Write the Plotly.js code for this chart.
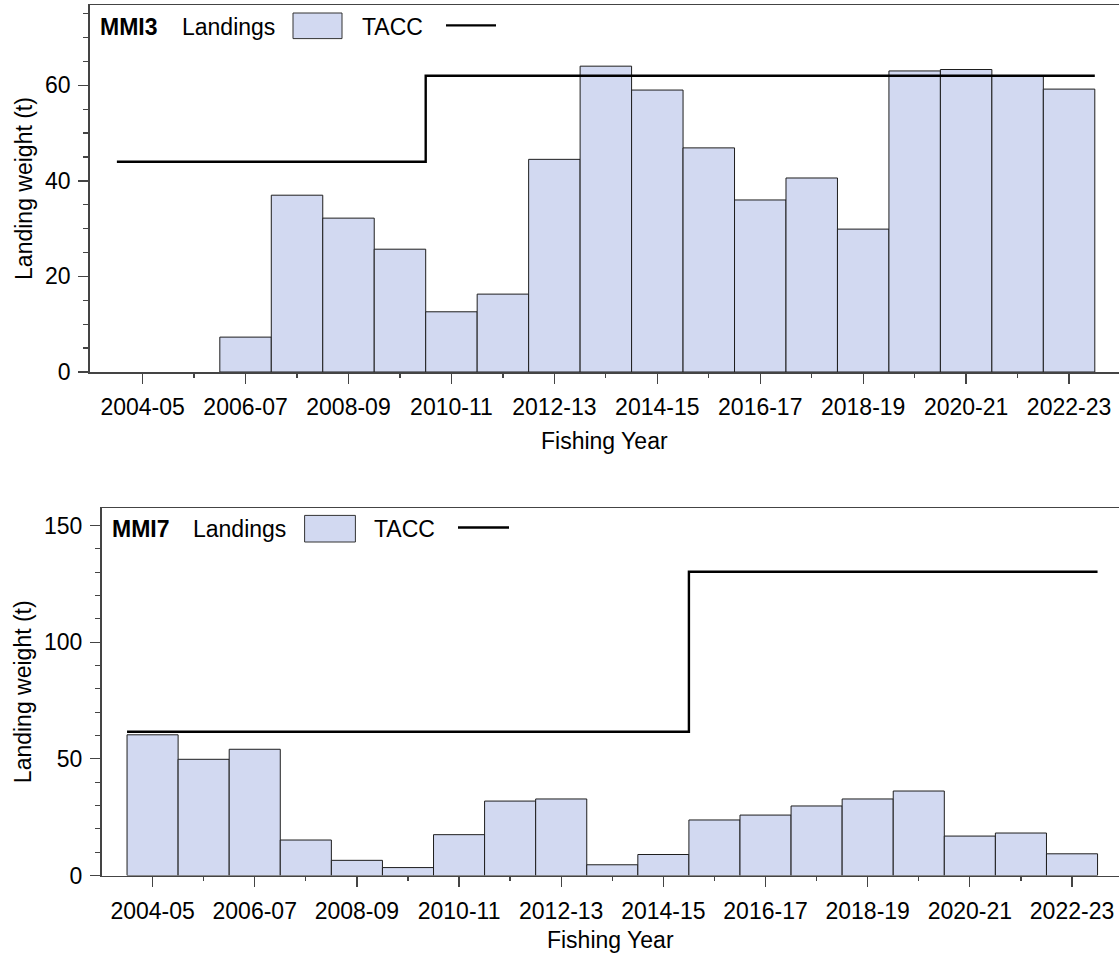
<!DOCTYPE html>
<html>
<head>
<meta charset="utf-8">
<script src="https://cdn.plot.ly/plotly-3.0.1.min.js"></script>
<style>html,body{margin:0;padding:0;background:#fff;}#chart{width:1119px;height:953px;}</style>
</head>
<body>
<div id="chart"></div>
<script>
// ---- data ----
const years = ["2004-05","2005-06","2006-07","2007-08","2008-09","2009-10","2010-11","2011-12","2012-13","2013-14","2014-15","2015-16","2016-17","2017-18","2018-19","2019-20","2020-21","2021-22","2022-23"];
const mmi3Landings = [0, 0, 7.3, 37.0, 32.2, 25.7, 12.6, 16.3, 44.5, 64.0, 59.0, 46.9, 36.0, 40.6, 29.9, 63.0, 63.3, 62.0, 59.2];
const mmi3TACC = [44, 44, 44, 44, 44, 44, 62, 62, 62, 62, 62, 62, 62, 62, 62, 62, 62, 62, 62];
const mmi7Landings = [60.3, 49.8, 54.1, 15.2, 6.5, 3.4, 17.5, 31.9, 32.8, 4.6, 9.0, 23.8, 25.9, 29.8, 32.8, 36.2, 16.9, 18.2, 9.3];
const mmi7TACC = [61.6, 61.6, 61.6, 61.6, 61.6, 61.6, 61.6, 61.6, 61.6, 61.6, 61.6, 130.2, 130.2, 130.2, 130.2, 130.2, 130.2, 130.2, 130.2];
const stockNames = ["MMI3", "MMI7"];

// ---- helpers ----
const W = 1119, H = 953;
const px = v => v / W;
const py = v => 1 - v / H;
const idx = years.map((_, i) => i);
const majorVals = idx.filter(i => i % 2 === 0);
const majorText = majorVals.map(i => years[i]);
const minorVals = idx.filter(i => i % 2 === 1);

function stepX() { const xs = idx.map(i => i - 0.5); xs.push(years.length - 0.5); return xs; }
function stepY(arr) { const ys = arr.slice(); ys.push(arr[arr.length - 1]); return ys; }
function outlineWidths(arr) { return arr.map(v => (v > 0 ? 1 : 0)); }

const FONT = "Liberation Sans, Arial, sans-serif";
const AX = "#444";
const BAR_FILL = "#d2d9f1";
const BAR_LINE = "#1e1e1e";

const traces = [
  { type: "bar", x: idx, y: mmi3Landings, width: 1, xaxis: "x", yaxis: "y",
    marker: { color: BAR_FILL, line: { color: BAR_LINE, width: outlineWidths(mmi3Landings) } }, showlegend: false, hoverinfo: "skip" },
  { type: "scatter", mode: "lines", x: stepX(), y: stepY(mmi3TACC), xaxis: "x", yaxis: "y",
    line: { color: "#000", width: 2.4, shape: "hv" }, showlegend: false, hoverinfo: "skip" },
  { type: "bar", x: idx, y: mmi7Landings, width: 1, xaxis: "x2", yaxis: "y2",
    marker: { color: BAR_FILL, line: { color: BAR_LINE, width: outlineWidths(mmi7Landings) } }, showlegend: false, hoverinfo: "skip" },
  { type: "scatter", mode: "lines", x: stepX(), y: stepY(mmi7TACC), xaxis: "x2", yaxis: "y2",
    line: { color: "#000", width: 2.4, shape: "hv" }, showlegend: false, hoverinfo: "skip" }
];

function xAxis(domainLeft, range, anchor) {
  return {
    domain: [px(domainLeft), 1], range: range, anchor: anchor,
    tickmode: "array", tickvals: majorVals, ticktext: majorText,
    ticks: "outside", ticklen: 10, tickwidth: 1.3, tickcolor: AX,
    ticklabelstandoff: 4,
    minor: { tickmode: "array", tickvals: minorVals, ticks: "outside", ticklen: 4, tickwidth: 1.3, tickcolor: AX },
    showline: true, linecolor: AX, linewidth: 1.5, mirror: true,
    showgrid: false, zeroline: false,
    tickfont: { family: FONT, size: 23, color: "#000" },
    title: { text: "Fishing Year", font: { family: FONT, size: 23, color: "#000" }, standoff: 14 },
    automargin: false, fixedrange: true
  };
}
function yAxis(domainTop, domainBottom, range, dtick, minorDtick, anchor) {
  return {
    domain: [py(domainBottom), py(domainTop)], range: range, anchor: anchor,
    tickmode: "linear", tick0: 0, dtick: dtick,
    ticks: "outside", ticklen: 10, tickwidth: 1.3, tickcolor: AX,
    ticklabelstandoff: 3,
    minor: { dtick: minorDtick, tick0: 0, ticks: "outside", ticklen: 5, tickwidth: 1.3, tickcolor: AX },
    showline: true, linecolor: AX, linewidth: 1.5,
    showgrid: false, zeroline: false,
    tickfont: { family: FONT, size: 23, color: "#000" },
    title: { text: "Landing weight (t)", font: { family: FONT, size: 23, color: "#000" }, standoff: 6 },
    automargin: false, fixedrange: true
  };
}

function legend(name, y, xs) {
  const ann = [
    { text: "<b>" + name + "</b>", x: px(xs.name), y: py(y) },
    { text: "Landings", x: px(xs.land), y: py(y) },
    { text: "TACC", x: px(xs.tacc), y: py(y) }
  ].map(a => Object.assign(a, { xref: "paper", yref: "paper", xanchor: "left", yanchor: "middle",
      showarrow: false, font: { family: FONT, size: 23, color: "#000" } }));
  const shp = [
    { type: "rect", xref: "paper", yref: "paper", x0: px(xs.box[0]), x1: px(xs.box[1]), y0: py(xs.boxY[1]), y1: py(xs.boxY[0]),
      fillcolor: BAR_FILL, line: { color: "#333", width: 1 } },
    { type: "line", xref: "paper", yref: "paper", x0: px(xs.line[0]), x1: px(xs.line[1]), y0: py(xs.lineY), y1: py(xs.lineY),
      line: { color: "#000", width: 2.4 } }
  ];
  return { ann, shp };
}

const lg1 = legend(stockNames[0], 27.5, { name: 98, land: 180, tacc: 360, box: [293, 342], boxY: [13, 38.6], line: [446, 496], lineY: 25.4 });
const lg2 = legend(stockNames[1], 528.5, { name: 110, land: 191, tacc: 372, box: [304.6, 355.4], boxY: [515.4, 542], line: [458, 509], lineY: 527.5 });

const layout = {
  width: W, height: H,
  margin: { l: 0, r: 0, t: 0, b: 0 },
  paper_bgcolor: "#fff", plot_bgcolor: "#fff",
  bargap: 0, showlegend: false,
  font: { family: FONT, size: 23, color: "#000" },
  xaxis: xAxis(89.6, [-1.03, 18.97], "y"),
  yaxis: yAxis(5, 372, [0, 76.8], 20, 5, "x"),
  xaxis2: xAxis(101.5, [-1, 18.92], "y2"),
  yaxis2: yAxis(508, 875.5, [0, 157.5], 50, 10, "x2"),
  annotations: lg1.ann.concat(lg2.ann),
  shapes: lg1.shp.concat(lg2.shp)
};

Plotly.newPlot("chart", traces, layout, { staticPlot: true, displayModeBar: false });
</script>
</body>
</html>
